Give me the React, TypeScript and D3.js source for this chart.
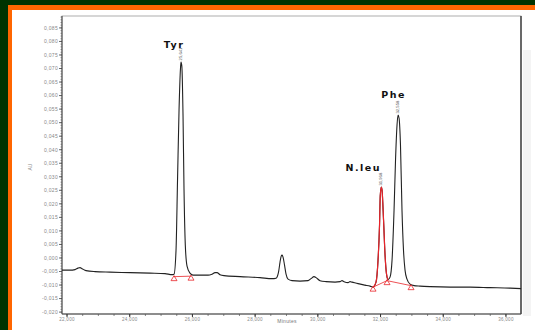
import React from "react";
import * as d3 from "d3";

// Chromatogram trace (minutes, AU)
const traceTime = [
  21.84, 22.096, 22.255, 22.351, 22.415, 22.478, 22.606, 22.893, 23.372, 24.01, 24.648, 25.126, 25.349, 25.413,
  25.477, 25.525, 25.573, 25.62, 25.636, 25.662, 25.7, 25.732, 25.773, 25.828, 25.923, 26.019, 26.242, 26.498,
  26.625, 26.721, 26.785, 26.88, 27.008, 27.518, 28.156, 28.539, 28.667, 28.746, 28.794, 28.832, 28.858, 28.89,
  28.938, 28.986, 29.05, 29.177, 29.432, 29.688, 29.783, 29.879, 29.943, 30.07, 30.262, 30.549, 30.708, 30.772,
  30.836, 30.963, 31.027, 31.091, 31.282, 31.506, 31.665,
];
const traceValue = [
  -0.0045, -0.0045, -0.00431, -0.00375, -0.00357, -0.00394, -0.00468, -0.00505, -0.00524, -0.00542, -0.00561, -0.00579, -0.00616, -0.00598,
  0.0029, 0.02879, 0.05467, 0.07021, 0.07243, 0.07095, 0.05283, 0.02509, 0.00475, -0.00302, -0.00561, -0.00635, -0.00635, -0.00635,
  -0.00598, -0.00542, -0.00542, -0.00616, -0.00653, -0.0069, -0.00727, -0.00764, -0.00746, -0.00524, -0.00154, 0.00068, 0.00105, 0.00031,
  -0.00265, -0.00598, -0.00783, -0.00838, -0.00856, -0.00838, -0.00764, -0.0069, -0.00727, -0.00838, -0.00875, -0.00893, -0.00875, -0.00838,
  -0.00875, -0.00912, -0.00875, -0.00893, -0.00949, -0.01004, -0.01041,
];
// N.leu peak (drawn red)
const nleuTime = [31.761, 31.856, 31.92, 31.968, 31.99, 32.025, 32.048, 32.096, 32.144, 32.191, 32.239];
const nleuValue = [-0.01078, -0.00893, -0.0008, 0.01215, 0.02287, 0.0262, 0.02509, 0.01399, 0.00105, -0.00598, -0.00801];
// Phe peak and tail
const pheTime = [32.239, 32.303, 32.367, 32.431, 32.478, 32.526, 32.558, 32.59, 32.636, 32.684, 32.732, 32.781, 32.844, 32.941, 33.068, 33.26, 33.579, 34.217, 34.855, 35.493, 36.131, 36.482];
const pheValue = [-0.00801, -0.00709, -0.0008, 0.01769, 0.03618, 0.04913, 0.05283, 0.05172, 0.04173, 0.01769, 0.0029, -0.0045, -0.00783, -0.00967, -0.01023, -0.01041, -0.0106, -0.01078, -0.01078, -0.01097, -0.01115, -0.01134];

// Integration baselines (minutes, AU)
const tyrBaseTime = [25.413, 25.955];
const tyrBaseValue = [-0.0069, -0.00672];
const nleuBaseTime = [31.761, 32.207, 32.973];
const nleuBaseValue = [-0.01078, -0.00838, -0.01023];

// Peak annotations
const peakNames = ["Tyr", "N.leu", "Phe"];
const peakTimes = [25.636, 32.025, 32.558];
const peakTops = [0.07243, 0.0262, 0.05283];
const peakRT = ["25,641", "31,968", "32,558"];

const xTickValues = [22, 24, 26, 28, 30, 32, 34, 36];
const yTickValues = [0.085, 0.08, 0.075, 0.07, 0.065, 0.06, 0.055, 0.05, 0.045, 0.04, 0.035, 0.03, 0.025, 0.02, 0.015, 0.01, 0.005, 0, -0.005, -0.01, -0.015, -0.02];

export default function App() {
  const W = 535, H = 330;
  const left = 62, right = 521, top = 16, bottom = 314;
  const x = d3.scaleLinear().domain([21.84, 36.48]).range([left, right]);
  const y = d3.scaleLinear().domain([-0.0207, 0.0894]).range([bottom, top]);

  const line = d3
    .line<[number, number]>()
    .x((d) => x(d[0]))
    .y((d) => y(d[1]))
    .curve(d3.curveMonotoneX);
  const straight = d3
    .line<[number, number]>()
    .x((d) => x(d[0]))
    .y((d) => y(d[1]));

  const mainPts: [number, number][] = [
    ...traceTime.map((t, i) => [t, traceValue[i]] as [number, number]),
    ...nleuTime.map((t, i) => [t, nleuValue[i]] as [number, number]),
    ...pheTime.slice(1).map((t, i) => [t, pheValue[i + 1]] as [number, number]),
  ];
  const nleuPts = nleuTime.map((t, i) => [t, nleuValue[i]] as [number, number]);
  const tyrBase = tyrBaseTime.map((t, i) => [t, tyrBaseValue[i]] as [number, number]);
  const nleuBase = nleuBaseTime.map((t, i) => [t, nleuBaseValue[i]] as [number, number]);

  const yMinor = d3.range(-0.02, 0.0891, 0.001);
  const xMinor = d3.range(22, 36.49, 0.5);
  const fmt = (v: number) => d3.format(".3f")(v).replace(".", ",").replace("−", "-");

  const tri = (px: number, py: number) =>
    `M${px},${py - 1} L${px - 3},${py + 4} L${px + 3},${py + 4} Z`;

  // label offsets relative to peak top (pixels)
  const labelDx = [-7, -18, -4.5];
  const labelDy = [-14, -16, -17];

  return (
    <svg width={W} height={H} style={{ position: "absolute", left: 0, top: 0 }} fontFamily="Liberation Sans, Arial, sans-serif">
      <rect x={0} y={0} width={W} height={H} fill="#003300" />
      <rect x={8} y={5} width={W - 8} height={H - 5} fill="#ff6600" />
      <rect x={12} y={10} width={W - 12} height={H - 10} fill="#ffffff" />
      <rect x={right + 2} y={50} width={8} height={bottom - 48} fill="#f4f4f4" />

      {/* frame */}
      <rect x={left} y={top} width={right - left} height={bottom - top} fill="none" stroke="#999" strokeWidth={0.8} />
      <line x1={right} y1={top} x2={right} y2={bottom} stroke="#444" strokeWidth={1.5} />
      <line x1={left} y1={bottom} x2={right} y2={bottom} stroke="#444" strokeWidth={1.2} />
      <line x1={left} y1={top} x2={left} y2={bottom} stroke="#444" strokeWidth={1} />

      {/* y ticks */}
      {yMinor.map((v, i) => (
        <line key={"ym" + i} x1={left - 1.5} x2={left} y1={y(v)} y2={y(v)} stroke="#555" strokeWidth={0.6} />
      ))}
      {yTickValues.map((v, i) => (
        <g key={"yt" + i}>
          <line x1={left - 3} x2={left} y1={y(v)} y2={y(v)} stroke="#444" strokeWidth={0.8} />
          <text x={left - 4} y={y(v) + 1.8} fontSize={5} fill="#888" textAnchor="end" letterSpacing={0.3}>
            {fmt(v)}
          </text>
        </g>
      ))}
      <text transform={`translate(32,167) rotate(-90)`} fontSize={5} fill="#888" textAnchor="middle">AU</text>

      {/* x ticks */}
      {xMinor.map((v, i) => (
        <line key={"xm" + i} x1={x(v)} x2={x(v)} y1={bottom} y2={bottom + 2} stroke="#555" strokeWidth={0.7} />
      ))}
      {xTickValues.map((v, i) => (
        <g key={"xt" + i}>
          <line x1={x(v)} x2={x(v)} y1={bottom} y2={bottom + 3} stroke="#333" strokeWidth={1} />
          <text x={x(v)} y={bottom + 6.5} fontSize={4.5} fill="#888" textAnchor="middle" letterSpacing={0.3}>
            {d3.format(".3f")(v).replace(".", ",")}
          </text>
        </g>
      ))}
      <text x={287} y={323} fontSize={5} fill="#777" textAnchor="middle" letterSpacing={0.3}>Minutes</text>

      {/* traces */}
      <path d={line(mainPts) || ""} fill="none" stroke="#222" strokeWidth={1.1} />
      <path d={line(nleuPts) || ""} fill="none" stroke="#e8242a" strokeWidth={1.2} />
      <path d={straight(tyrBase) || ""} fill="none" stroke="#e8242a" strokeWidth={0.8} />
      <path d={straight(nleuBase) || ""} fill="none" stroke="#e8242a" strokeWidth={0.8} />
      {[...tyrBase, ...nleuBase].map((p, i) => (
        <path key={"tr" + i} d={tri(x(p[0]), y(p[1]))} fill="none" stroke="#e8242a" strokeWidth={0.8} />
      ))}

      {/* peak labels */}
      {peakNames.map((n, i) => {
        const px = x(peakTimes[i]);
        const py = y(peakTops[i]);
        return (
          <g key={"pk" + i}>
            <text x={px + labelDx[i]} y={py + labelDy[i]} fontSize={9.5} fontWeight="bold" fill="#111" textAnchor="middle" letterSpacing={1.5} fontFamily="DejaVu Sans, sans-serif">
              {n}
            </text>
            <text transform={`translate(${px + 1},${py - 1.5}) rotate(-90)`} fontSize={4.2} fill="#555" textAnchor="start">
              {peakRT[i]}
            </text>
          </g>
        );
      })}
    </svg>
  );
}
